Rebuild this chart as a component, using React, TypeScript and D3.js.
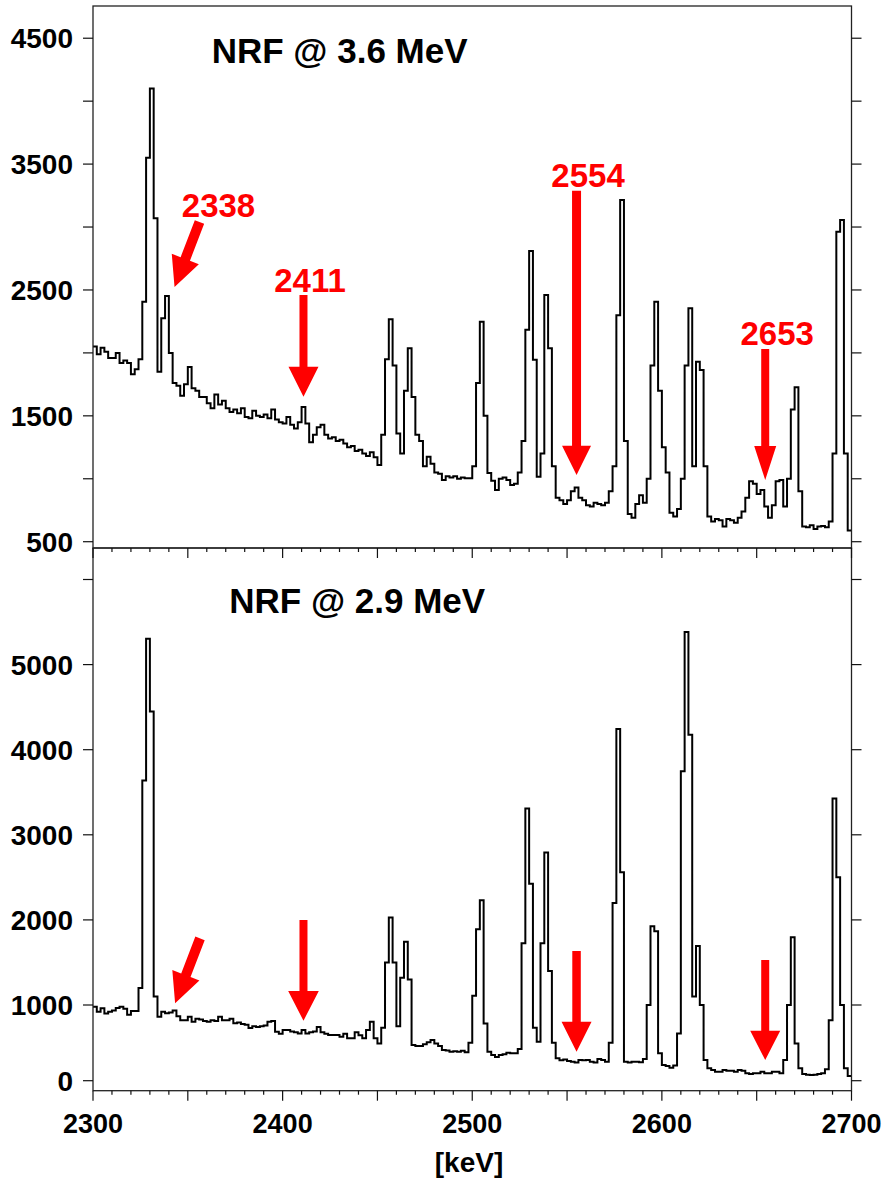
import React from 'react';
import * as d3 from 'd3';

// ---------- data ----------
const BIN_START = 2300; // keV
const BIN_WIDTH = 2; // keV
const ENERGY_MIN = 2300;
const ENERGY_MAX = 2700;

// NRF @ 3.6 MeV, counts per 2 keV bin starting at 2300 keV
const counts36 = [
  2050, 1990, 2040, 2010, 1960, 1960, 2000, 1920, 1940, 1920,
  1830, 1870, 1950, 2407, 3550, 4100, 3070, 1850, 2275, 2452,
  2000, 1760, 1740, 1660, 1750, 1888, 1720, 1700, 1650, 1650,
  1600, 1560, 1670, 1590, 1620, 1560, 1530, 1550, 1520, 1560,
  1490, 1480, 1540, 1500, 1490, 1510, 1480, 1550, 1470, 1450,
  1440, 1490, 1430, 1400, 1450, 1570, 1440, 1290, 1350, 1410,
  1430, 1350, 1320, 1330, 1300, 1310, 1280, 1250, 1260, 1220,
  1230, 1200, 1180, 1210, 1170, 1110, 1350, 1950, 2267, 1900,
  1360, 1200, 1700, 2037, 1650, 1350, 1300, 1100, 1175, 1120,
  1050, 1040, 990, 1020, 1010, 1020, 1000, 1010, 1005, 1005,
  1100, 1760, 2248, 1500, 1045, 985, 910, 1000, 1010, 990,
  950, 960, 1050, 1300, 2183, 2810, 1945, 1016, 1200, 2460,
  2037, 1100, 850, 830, 800, 830, 900, 930, 850, 830,
  790, 780, 810, 800, 790, 810, 900, 1100, 2300, 3214,
  1300, 720, 690, 800, 870, 810, 1000, 1900, 2407, 1700,
  1250, 1050, 730, 700, 760, 1000, 1900, 2354, 1100, 1930,
  1865, 1100, 700, 660, 680, 670, 620, 680, 670, 650,
  690, 740, 850, 980, 960, 880, 910, 780, 690, 790,
  980, 990, 780, 1000, 1550, 1727, 900, 620, 615, 630,
  600, 620, 625, 615, 660, 1200, 2963, 3056, 1200, 590,
];

// NRF @ 2.9 MeV, counts per 2 keV bin starting at 2300 keV
const counts29 = [
  977, 911, 957, 889, 910, 928, 960, 977, 950, 870,
  920, 920, 1200, 3637, 5305, 4449, 1100, 845, 911, 890,
  900, 928, 850, 800, 800, 845, 779, 820, 810, 790,
  779, 800, 790, 845, 800, 800, 820, 760, 770, 750,
  740, 696, 720, 710, 720, 730, 779, 790, 647, 620,
  669, 669, 650, 640, 625, 669, 625, 640, 650, 709,
  640, 620, 603, 603, 603, 580, 620, 560, 560, 640,
  600, 560, 669, 779, 560, 493, 700, 1500, 2028, 1500,
  720, 1319, 1742, 1300, 471, 460, 460, 480, 507, 537,
  490, 460, 405, 400, 383, 390, 383, 395, 375, 500,
  1109, 1891, 2231, 757, 383, 340, 313, 339, 350, 370,
  361, 361, 420, 1726, 3309, 2424, 700, 515, 1726, 2793,
  1400, 500, 296, 270, 280, 260, 251, 240, 273, 270,
  273, 250, 240, 286, 273, 251, 500, 2200, 4243, 2561,
  250, 240, 251, 251, 245, 286, 1000, 1926, 1868, 361,
  207, 195, 170, 200, 625, 3746, 5383, 4176, 1100, 1692,
  1000, 273, 163, 141, 119, 119, 141, 130, 130, 119,
  141, 130, 100, 88, 97, 97, 119, 97, 97, 119,
  119, 100, 273, 1000, 1797, 493, 163, 88, 80, 75,
  80, 88, 100, 150, 800, 3426, 2500, 1000, 163, 62,
];

const xTickLabels = [2300, 2400, 2500, 2600, 2700];
const topYTicks = [500, 1000, 1500, 2000, 2500, 3000, 3500, 4000, 4500];
const topYLabels = [500, 1500, 2500, 3500, 4500];
const botYTicks = [0, 1000, 2000, 3000, 4000, 5000, 6000];
const botYLabels = [0, 1000, 2000, 3000, 4000, 5000];

const title36 = 'NRF @ 3.6 MeV';
const title29 = 'NRF @ 2.9 MeV';
const xAxisTitle = '[keV]';

// arrow annotations: energy of the tip (keV), counts at the tip, label
const arrowsTopKeV = [2343, 2411, 2555, 2654.5];
const arrowsTopTip = [2524, 1652, 1030, 990];
const arrowsTopLabel = ['2338', '2411', '2554', '2653'];
const arrowsBotKeV = [2343.3, 2411, 2555, 2654.5];
const arrowsBotTip = [1020, 792, 383, 273];

// ---------- layout / style ----------
const W = 883;
const H = 1185;
const X0 = 93;
const X1 = 851.5;
const TOP_Y0 = 6;
const MID_Y = 548;
const BOT_Y1 = 1090.7;
const FONT = '"Liberation Sans", Arial, Helvetica, sans-serif';
const RED = '#ff0000';

// per-arrow drawing style (px): length, shaft width, head width, head length, tilt (deg), label offset
const topArrowStyle = [
  { len: 69.6, sw: 10, hw: 29, hl: 30, rot: 21, ldx: 44, ldy: -70.3 },
  { len: 101.7, sw: 8, hw: 30, hl: 30, rot: 0, ldx: 6.5, ldy: -105 },
  { len: 284.3, sw: 9, hw: 29, hl: 29.3, rot: 0, ldx: 11.5, ldy: -288.3 },
  { len: 131, sw: 8, hw: 22, hl: 34, rot: 0, ldx: 12, ldy: -135 },
];
const botArrowStyle = [
  { len: 69.5, sw: 10, hw: 29, hl: 30, rot: 21 },
  { len: 100.7, sw: 8, hw: 30.6, hl: 29.7, rot: 0 },
  { len: 100.7, sw: 8.5, hw: 30, hl: 30, rot: 0 },
  { len: 100, sw: 8, hw: 30, hl: 29.3, rot: 0 },
];

function arrowPath(tx: number, ty: number, s: { len: number; sw: number; hw: number; hl: number }) {
  const top = ty - s.len;
  const hb = ty - s.hl;
  return [
    `M${tx - s.sw / 2},${top}`,
    `L${tx + s.sw / 2},${top}`,
    `L${tx + s.sw / 2},${hb}`,
    `L${tx + s.hw / 2},${hb}`,
    `L${tx},${ty}`,
    `L${tx - s.hw / 2},${hb}`,
    `L${tx - s.sw / 2},${hb}`,
    'Z',
  ].join(' ');
}

export default function App() {
  const x = d3.scaleLinear().domain([ENERGY_MIN, ENERGY_MAX]).range([X0, X1]);
  const yTop = d3.scaleLinear().domain([450, 4756]).range([MID_Y, TOP_Y0]);
  const yBot = d3.scaleLinear().domain([0, 1000, 6000]).range([1080.7, 1005, 579.5]);

  const toPoints = (vals: number[]) => {
    const pts: [number, number][] = vals.map((v, i) => [BIN_START + i * BIN_WIDTH, v]);
    pts.push([BIN_START + vals.length * BIN_WIDTH, vals[vals.length - 1]]);
    return pts;
  };

  const lineTop = d3
    .line<[number, number]>()
    .x((d) => x(d[0]))
    .y((d) => yTop(d[1]))
    .curve(d3.curveStepAfter);
  const lineBot = d3
    .line<[number, number]>()
    .x((d) => x(d[0]))
    .y((d) => yBot(d[1]))
    .curve(d3.curveStepAfter);

  const minorTicks = d3.range(ENERGY_MIN, ENERGY_MAX + 1, 10);

  const xTicksAt = (yAxis: number, key: string) =>
    minorTicks.map((t) => {
      const major = t % 50 === 0;
      return (
        <line
          key={key + t}
          x1={x(t)}
          x2={x(t)}
          y1={yAxis}
          y2={yAxis + (major ? 10 : 4)}
          stroke="#111"
          strokeWidth={1.2}
        />
      );
    });

  return (
    <svg
      width={W}
      height={H}
      style={{ position: 'absolute', left: 0, top: 0, background: '#fff' }}
      fontFamily={FONT}
      fontWeight="bold"
    >
      <rect x={0} y={0} width={W} height={H} fill="#fff" />

      {/* histograms */}
      <path d={lineTop(toPoints(counts36)) || ''} fill="none" stroke="#000" strokeWidth={2} strokeLinejoin="miter" />
      <path d={lineBot(toPoints(counts29)) || ''} fill="none" stroke="#000" strokeWidth={2} strokeLinejoin="miter" />

      {/* frames */}
      <rect x={X0} y={TOP_Y0} width={X1 - X0} height={MID_Y - TOP_Y0} fill="none" stroke="#222" strokeWidth={1.3} />
      <rect x={X0} y={MID_Y} width={X1 - X0} height={BOT_Y1 - MID_Y} fill="none" stroke="#222" strokeWidth={1.3} />

      {/* y ticks top */}
      {topYTicks.map((t) => (
        <g key={'tyt' + t}>
          <line x1={X0 - 10} x2={X0} y1={yTop(t)} y2={yTop(t)} stroke="#111" strokeWidth={1.2} />
          <line x1={X1} x2={X1 + 10} y1={yTop(t)} y2={yTop(t)} stroke="#111" strokeWidth={1.2} />
        </g>
      ))}
      {topYLabels.map((t) => (
        <text key={'tyl' + t} x={73} y={yTop(t)} dy="0.36em" textAnchor="end" fontSize={28} fill="#000">
          {t}
        </text>
      ))}

      {/* y ticks bottom */}
      {botYTicks.map((t) => (
        <g key={'byt' + t}>
          <line x1={X0 - 10} x2={X0} y1={yBot(t)} y2={yBot(t)} stroke="#111" strokeWidth={1.2} />
          <line x1={X1} x2={X1 + 10} y1={yBot(t)} y2={yBot(t)} stroke="#111" strokeWidth={1.2} />
        </g>
      ))}
      {botYLabels.map((t) => (
        <text key={'byl' + t} x={73} y={yBot(t)} dy="0.36em" textAnchor="end" fontSize={28} fill="#000">
          {t}
        </text>
      ))}

      {/* x ticks */}
      {xTicksAt(MID_Y, 'mx')}
      {xTicksAt(BOT_Y1, 'bx')}
      {xTickLabels.map((t) => (
        <text key={'xl' + t} x={x(t)} y={1132.7} textAnchor="middle" fontSize={27} fill="#000">
          {t}
        </text>
      ))}
      <text x={469} y={1172} textAnchor="middle" fontSize={28} fill="#000">
        {xAxisTitle}
      </text>

      {/* titles */}
      <text x={211.7} y={63.3} fontSize={35} fill="#000">
        {title36}
      </text>
      <text x={229.3} y={613.3} fontSize={35} fill="#000">
        {title29}
      </text>

      {/* arrows top */}
      {arrowsTopKeV.map((k, i) => {
        const tx = x(k);
        const ty = yTop(arrowsTopTip[i]);
        const s = topArrowStyle[i];
        return (
          <g key={'ta' + i}>
            <path d={arrowPath(tx, ty, s)} fill={RED} transform={`rotate(${s.rot},${tx},${ty})`} />
            <text x={tx + s.ldx} y={ty + s.ldy} textAnchor="middle" fontSize={33} fill={RED}>
              {arrowsTopLabel[i]}
            </text>
          </g>
        );
      })}

      {/* arrows bottom */}
      {arrowsBotKeV.map((k, i) => {
        const tx = x(k);
        const ty = yBot(arrowsBotTip[i]);
        const s = botArrowStyle[i];
        return <path key={'ba' + i} d={arrowPath(tx, ty, s)} fill={RED} transform={`rotate(${s.rot},${tx},${ty})`} />;
      })}
    </svg>
  );
}
